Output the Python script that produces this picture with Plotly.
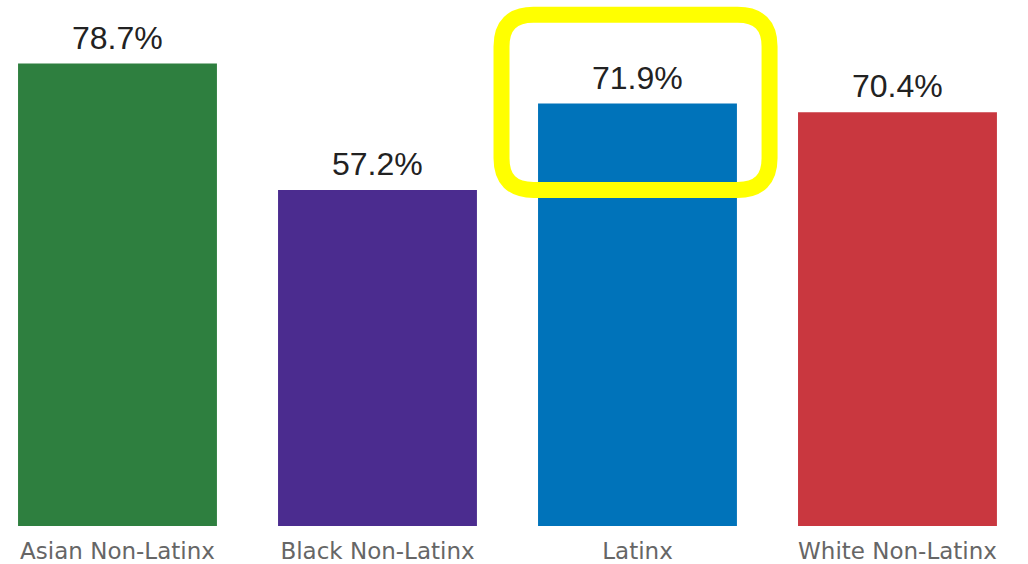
import plotly.graph_objects as go

categories = ["Asian Non-Latinx", "Black Non-Latinx", "Latinx", "White Non-Latinx"]
values = [78.7, 57.2, 71.9, 70.4]
labels = ["78.7%", "57.2%", "71.9%", "70.4%"]
colors = ["#2E7F3F", "#4B2C8F", "#0073BA", "#C9373F"]
highlight = "Latinx"

xs = list(range(len(categories)))

fig = go.Figure()
fig.add_trace(go.Bar(
    x=xs, y=values, width=0.765,
    marker=dict(color=colors, line=dict(width=0)),
    hoverinfo="skip",
))

for x, v, t in zip(xs, values, labels):
    fig.add_annotation(
        x=x, y=v, text=t, showarrow=False, xanchor="center", yanchor="bottom",
        yshift=6,
        font=dict(family="Liberation Sans, Arial, sans-serif", size=32, color="#222222"),
    )

# rounded highlight box around the chosen category
hi = categories.index(highlight)
x0, x1 = hi - 0.523, hi + 0.508
y0, y1 = 57.2, 87.0
rx, ry = 0.123, 5.4
path = (f"M {x0+rx},{y1} L {x1-rx},{y1} Q {x1},{y1} {x1},{y1-ry} "
        f"L {x1},{y0+ry} Q {x1},{y0} {x1-rx},{y0} "
        f"L {x0+rx},{y0} Q {x0},{y0} {x0},{y0+ry} "
        f"L {x0},{y1-ry} Q {x0},{y1} {x0+rx},{y1} Z")
fig.add_shape(type="path", path=path, xref="x", yref="y",
              line=dict(color="#FFFF00", width=16), layer="above")

fig.update_layout(
    width=1028, height=564,
    margin=dict(l=0, r=0, t=0, b=35),
    paper_bgcolor="white", plot_bgcolor="white",
    showlegend=False,
)
fig.update_xaxes(
    range=[-0.4519, 3.502], tickmode="array", tickvals=xs, ticktext=categories,
    showgrid=False, zeroline=False, showline=False, ticks="",
    ticklabelstandoff=9,
    tickfont=dict(family="DejaVu Sans, Verdana, sans-serif", size=23, color="#666666"),
)
fig.update_yaxes(range=[0, 89.52], visible=False)

fig.write_html("out.html", config={"displayModeBar": False},
               post_script="document.body.style.margin='0';document.body.style.overflow='hidden';")
